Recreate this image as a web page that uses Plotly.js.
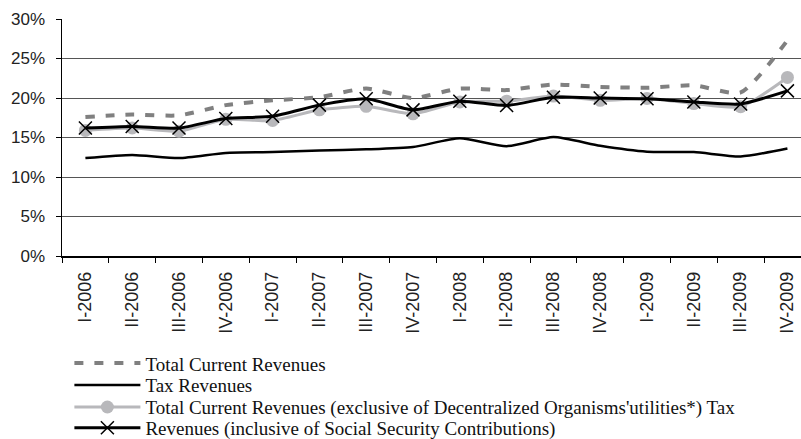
<!DOCTYPE html>
<html>
<head>
<meta charset="utf-8">
<script src="https://cdn.plot.ly/plotly-3.0.1.min.js"></script>
<style>
  html, body { margin: 0; padding: 0; background: #fff; }
  #myDiv { width: 801px; height: 439px; }
</style>
</head>
<body>
<div id="myDiv"></div>
<script>
// quarters on the x axis
var quarters = ["I-2006","II-2006","III-2006","IV-2006","I-2007","II-2007","III-2007","IV-2007",
                "I-2008","II-2008","III-2008","IV-2008","I-2009","II-2009","III-2009","IV-2009"];

// values in %
var totalCurrent  = [17.6, 17.9, 17.8, 19.1, 19.7, 20.1, 21.2, 20.0, 21.2, 21.0, 21.7, 21.4, 21.3, 21.6, 20.7, 27.3];
var taxRevenues   = [12.4, 12.8, 12.4, 13.05, 13.15, 13.35, 13.5, 13.8, 14.9, 13.9, 15.05, 13.95, 13.2, 13.15, 12.6, 13.6];
var exclDecentral = [15.9, 16.2, 15.8, 17.3, 17.15, 18.5, 18.95, 18.0, 19.5, 19.6, 20.25, 19.7, 19.95, 19.3, 18.9, 22.6];
var inclSocialSec = [16.2, 16.4, 16.2, 17.4, 17.7, 19.1, 19.9, 18.5, 19.6, 19.05, 20.1, 20.0, 19.9, 19.5, 19.25, 20.9];

var names = ["Total Current Revenues",
             "Tax Revenues",
             "Total Current Revenues (exclusive of Decentralized Organisms'utilities*) Tax",
             "Revenues (inclusive of Social Security Contributions)"];

var smooth = 0.6

var t1 = {
  x: quarters, y: totalCurrent, name: names[0], legend: 'legend',
  type: 'scatter', mode: 'lines',
  line: {color: 'rgb(128,128,128)', width: 4, dash: '9px,11px', shape: 'spline', smoothing: smooth}
};
var t2 = {
  x: quarters, y: taxRevenues, name: names[1], legend: 'legend2',
  type: 'scatter', mode: 'lines',
  line: {color: 'black', width: 2.5, shape: 'spline', smoothing: smooth}
};
var t3 = {
  x: quarters, y: exclDecentral, name: names[2], legend: 'legend3',
  type: 'scatter', mode: 'lines+markers',
  line: {color: 'rgb(184,184,187)', width: 3, shape: 'spline', smoothing: smooth},
  marker: {symbol: 'circle', size: 13, color: 'rgb(184,184,187)'}
};
var t4 = {
  x: quarters, y: inclSocialSec, name: names[3], legend: 'legend4',
  type: 'scatter', mode: 'lines+markers',
  line: {color: 'black', width: 3, shape: 'spline', smoothing: smooth},
  marker: {symbol: 'x-thin-open', size: 13, line: {color: 'black', width: 1.5}}
};

// one legend per row so the rows can sit as close as in the original;
// container refs keep them from pushing the plot margins
function legendRow(yPos) {
  return {
    xref: 'paper', x: 0.01, xanchor: 'left',
    yref: 'container', y: yPos, yanchor: 'middle',
    itemwidth: 66,
    font: {family: 'Liberation Serif, Times New Roman, serif', size: 19, color: '#111'},
    bgcolor: 'rgba(0,0,0,0)'
  };
}

var layout = {
  width: 801, height: 439,
  margin: {l: 62, r: 0, t: 19, b: 183},
  paper_bgcolor: 'white',
  plot_bgcolor: 'white',
  showlegend: true,
  font: {family: 'Liberation Sans, Arial, sans-serif', color: '#222'},
  xaxis: {
    type: 'category',
    range: [-0.5, 15.29],
    tickangle: -90,
    tickson: 'boundaries',
    ticks: 'outside', ticklen: 5, tickcolor: 'black',
    ticklabelstandoff: 7,
    showline: true, linecolor: 'black', linewidth: 1.5,
    showgrid: false,
    tickfont: {size: 18}
  },
  yaxis: {
    range: [0, 30],
    dtick: 5,
    ticksuffix: '%',
    ticks: 'outside', ticklen: 5, tickcolor: 'black',
    ticklabelstandoff: 7,
    showline: true, linecolor: 'black', linewidth: 1.5,
    gridcolor: '#555', gridwidth: 1,
    zeroline: false,
    tickfont: {size: 17}
  },
  legend: legendRow(0.1725),
  legend2: legendRow(0.1225),
  legend3: legendRow(0.0725),
  legend4: legendRow(0.0255)
};

Plotly.newPlot('myDiv', [t1, t2, t3, t4], layout, {staticPlot: true});
</script>
</body>
</html>
